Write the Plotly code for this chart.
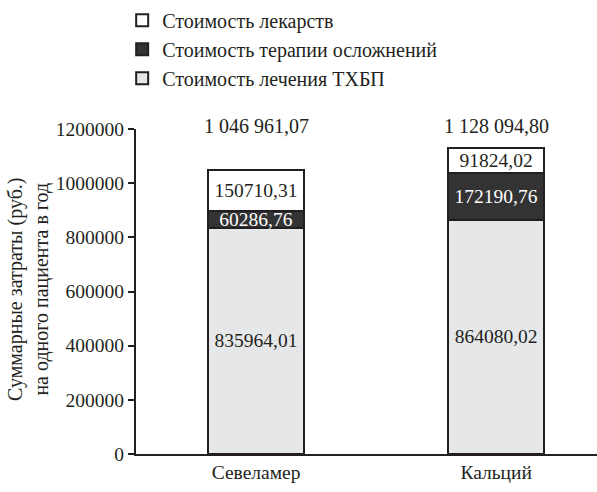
import plotly.graph_objects as go

# Drug names (x categories)
categories = ["Севеламер", "Кальций"]

# Cost components per patient per year, rubles
ckd_treatment = [835964.01, 864080.02]      # Стоимость лечения ТХБП
complications = [60286.76, 172190.76]       # Стоимость терапии осложнений
drugs = [150710.31, 91824.02]               # Стоимость лекарств
totals = [1046961.07, 1128094.80]           # labelled totals

y_ticks = [0, 200000, 400000, 600000, 800000, 1000000, 1200000]
y_title = "Суммарные затраты (руб.)<br>на одного пациента в год"

FONT = "Liberation Serif"
EDGE = "#231f20"
FS = 19.5

fig = go.Figure()

series = [
    ("Стоимость лечения ТХБП", ckd_treatment, "#e6e7e8", "#231f20"),
    ("Стоимость терапии осложнений", complications, "#333333", "#ffffff"),
    ("Стоимость лекарств", drugs, "#ffffff", "#231f20"),
]
for name, vals, fill, txt in series:
    fig.add_trace(go.Bar(
        x=categories, y=vals, name=name,
        marker=dict(color=fill, line=dict(color=EDGE, width=2)),
        width=0.4,
        texttemplate="%{y:.2f}", textposition="inside",
        insidetextanchor="middle", constraintext="none",
        insidetextfont=dict(family=FONT, size=FS, color=txt),
        hoverinfo="skip",
    ))

# Total labels above each bar
for cat, tot in zip(categories, totals):
    s = f"{tot:,.2f}".replace(",", " ").replace(".", ",")
    fig.add_annotation(x=cat, y=1.01, yref="paper", text=s, showarrow=False,
                       font=dict(family=FONT, size=20, color=EDGE),
                       xanchor="center", yanchor="middle")

# Rotated two-line y-axis title
fig.add_annotation(x=-0.232, y=0.505, xref="paper", yref="paper", text=y_title,
                   showarrow=False, textangle=-90, xanchor="center", yanchor="middle",
                   font=dict(family=FONT, size=20, color=EDGE))

fig.update_layout(
    width=597, height=492,
    margin=dict(l=136, r=0, t=127, b=38),
    barmode="stack",
    separators=", ",
    paper_bgcolor="white", plot_bgcolor="white",
    font=dict(family=FONT, size=FS, color=EDGE),
    showlegend=True,
    legend=dict(
        x=-0.03, y=1.395, xanchor="left", yanchor="top",
        traceorder="reversed", bgcolor="rgba(0,0,0,0)",
        font=dict(family=FONT, size=20, color=EDGE),
        itemwidth=30, tracegroupgap=0,
    ),
    xaxis=dict(
        range=[-0.5, 1.42], showgrid=False, zeroline=False,
        showline=True, linecolor=EDGE, linewidth=2, ticks="",
        tickfont=dict(family=FONT, size=FS, color=EDGE),
    ),
    yaxis=dict(
        range=[0, 1200000], tickvals=y_ticks, tickformat="d",
        showgrid=False, zeroline=False,
        showline=True, linecolor=EDGE, linewidth=2,
        ticks="outside", ticklen=6, tickwidth=2, tickcolor=EDGE,
        tickfont=dict(family=FONT, size=FS, color=EDGE),
    ),
)

fig.write_html("out.html")
